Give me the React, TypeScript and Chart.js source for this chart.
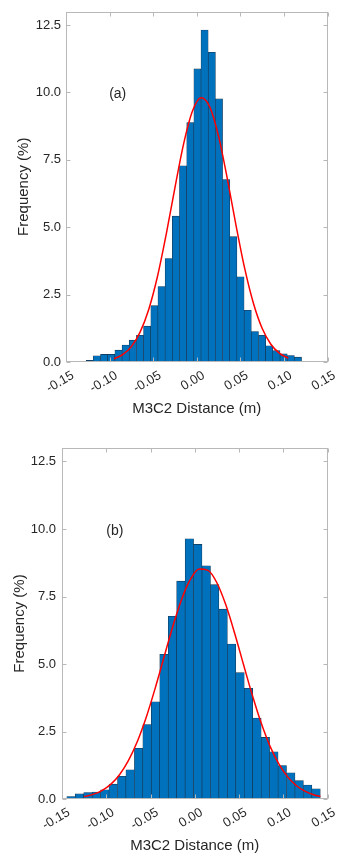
import React, { useEffect, useRef } from 'react';
import { Chart, registerables } from 'chart.js';
Chart.register(...registerables);

// ---- tick values ----
const xTickValues = [-0.15, -0.1, -0.05, 0, 0.05, 0.1, 0.15];
const yTickValues = [0, 2.5, 5, 7.5, 10, 12.5];

// ---- panel (a) ----
const binCentersA = [
  -0.1228, -0.1145, -0.1063, -0.0981, -0.0898, -0.0816, -0.0734, -0.0651, -0.0569, -0.0486,
  -0.0404, -0.0322, -0.0239, -0.0157, -0.0074, 0.0008, 0.0090, 0.0173, 0.0255, 0.0338,
  0.0420, 0.0502, 0.0585, 0.0667, 0.0750, 0.0832, 0.0914, 0.0997, 0.1079, 0.1161,
];
const freqA = [
  0.06, 0.23, 0.28, 0.28, 0.44, 0.63, 0.81, 0.99, 1.33, 2.09,
  2.80, 3.84, 5.41, 7.28, 8.88, 10.87, 12.31, 11.49, 9.76, 6.77,
  4.65, 3.16, 1.92, 1.13, 0.99, 0.60, 0.42, 0.30, 0.24, 0.18,
];
const curveXA = [
  -0.095, -0.085, -0.075, -0.065, -0.055, -0.045, -0.035, -0.025, -0.015, -0.005,
  0.005, 0.015, 0.025, 0.035, 0.045, 0.055, 0.065, 0.075, 0.085, 0.095, 0.105,
];
const curveYA = [
  0.12, 0.27, 0.57, 1.11, 1.96, 3.18, 4.74, 6.47, 8.10, 9.30,
  9.80, 9.46, 8.38, 6.81, 5.08, 3.47, 2.18, 1.25, 0.66, 0.32, 0.14,
];

// ---- panel (b) ----
const binCentersB = [
  -0.1398, -0.1303, -0.1207, -0.1112, -0.1016, -0.0921, -0.0825, -0.0730, -0.0634, -0.0539,
  -0.0443, -0.0348, -0.0252, -0.0157, -0.0061, 0.0034, 0.0130, 0.0225, 0.0321, 0.0416,
  0.0512, 0.0607, 0.0703, 0.0798, 0.0894, 0.0989, 0.1085, 0.1180, 0.1276, 0.1371,
];
const freqB = [
  0.09, 0.19, 0.24, 0.26, 0.34, 0.55, 0.84, 1.08, 1.88, 2.76,
  3.60, 5.36, 6.77, 8.07, 9.64, 9.43, 8.64, 7.94, 7.03, 5.74,
  4.68, 4.10, 3.00, 2.28, 1.75, 1.24, 0.97, 0.68, 0.52, 0.38,
];
const curveXB = [
  -0.125, -0.115, -0.105, -0.095, -0.085, -0.075, -0.065, -0.055, -0.045, -0.035,
  -0.025, -0.015, -0.005, 0.005, 0.015, 0.025, 0.035, 0.045, 0.055, 0.065,
  0.075, 0.085, 0.095, 0.105, 0.115, 0.125, 0.135, 0.142,
];
const curveYB = [
  0.09, 0.17, 0.31, 0.54, 0.90, 1.42, 2.12, 3.01, 4.07, 5.22,
  6.37, 7.38, 8.13, 8.52, 8.47, 8.01, 7.20, 6.15, 4.99, 3.85,
  2.82, 1.96, 1.30, 0.82, 0.49, 0.28, 0.15, 0.09,
];

const FONT = "'Liberation Sans', Arial, Helvetica, sans-serif";
const TEXT = '#262626';
const AXIS = '#b8b8b8';

type Geom = { left: number; right: number; top: number; bottom: number; width: number; height: number; yTitlePad: number; xTitlePad: number; yTickPad: number };

const framePlugin = {
  id: 'frame',
  afterDatasetsDraw(chart: any, _args: any, opts: any) {
    const { ctx, chartArea: a, scales } = chart;
    const x = scales.x;
    const y = scales.y;
    ctx.save();
    ctx.strokeStyle = AXIS;
    ctx.lineWidth = 1;
    const L = Math.round(a.left) + 0.5;
    const R = Math.round(a.right) - 0.5;
    const T = Math.round(a.top) + 0.5;
    const B = Math.round(a.bottom) - 0.5;
    ctx.strokeRect(L, T, R - L, B - T);
    const tl = 4;
    ctx.beginPath();
    xTickValues.forEach((v) => {
      const px = Math.round(x.getPixelForValue(v)) + 0.5;
      ctx.moveTo(px, T);
      ctx.lineTo(px, T + tl);
      ctx.moveTo(px, B);
      ctx.lineTo(px, B - tl);
    });
    yTickValues.forEach((v) => {
      const py = Math.round(y.getPixelForValue(v)) + 0.5;
      ctx.moveTo(L, py);
      ctx.lineTo(L + tl, py);
      ctx.moveTo(R, py);
      ctx.lineTo(R - tl, py);
    });
    ctx.stroke();
    // panel label
    ctx.fillStyle = TEXT;
    ctx.font = `14px ${FONT}`;
    ctx.textAlign = 'center';
    ctx.textBaseline = 'middle';
    ctx.fillText(opts.text, x.getPixelForValue(opts.x), y.getPixelForValue(opts.y));
    ctx.restore();
  },
};

function Hist(props: {
  centers: number[];
  freq: number[];
  cx: number[];
  cy: number[];
  label: string;
  labelX: number;
  labelY: number;
  g: Geom;
}) {
  const ref = useRef<HTMLCanvasElement>(null);
  const { centers, freq, cx, cy, label, labelX, labelY, g } = props;
  useEffect(() => {
    if (!ref.current) return;
    const chart = new Chart(ref.current, {
      type: 'bar',
      data: {
        datasets: [
          {
            type: 'line',
            data: cx.map((v, i) => ({ x: v, y: cy[i] })),
            borderColor: '#ff0000',
            borderWidth: 1.5,
            pointRadius: 0,
            fill: false,
            cubicInterpolationMode: 'monotone',
            order: 0,
          } as any,
          {
            type: 'bar',
            data: centers.map((v, i) => ({ x: v, y: freq[i] })),
            backgroundColor: '#0072BD',
            borderColor: '#15334f',
            borderWidth: 0.6,
            barPercentage: 1,
            categoryPercentage: 1,
            order: 1,
          } as any,
        ],
      },
      options: {
        responsive: false,
        animation: false,
        events: [],
        layout: { padding: { left: 0, top: g.top, right: g.width - g.right, bottom: 0 } },
        plugins: {
          legend: { display: false },
          tooltip: { enabled: false },
          frame: { text: label, x: labelX, y: labelY },
        } as any,
        scales: {
          x: {
            type: 'linear',
            min: -0.15,
            max: 0.15,
            offset: false,
            grid: { display: false, drawTicks: false },
            border: { display: false },
            afterBuildTicks: (s: any) => {
              s.ticks = xTickValues.map((v) => ({ value: v }));
            },
            afterFit: (s: any) => {
              s.height = g.height - g.bottom;
            },
            ticks: {
              autoSkip: false,
              minRotation: 30,
              maxRotation: 30,
              padding: 7,
              labelOffset: 7,
              color: TEXT,
              font: { family: FONT, size: 13, lineHeight: 1 },
              callback: (v: any) => Number(v).toFixed(2),
            },
            title: {
              display: true,
              text: 'M3C2 Distance (m)',
              color: TEXT,
              font: { family: FONT, size: 15, lineHeight: 1 },
              padding: { top: 0, bottom: g.xTitlePad },
            },
          },
          y: {
            type: 'linear',
            min: 0,
            max: 13,
            grid: { display: false, drawTicks: false },
            border: { display: false },
            afterBuildTicks: (s: any) => {
              s.ticks = yTickValues.map((v) => ({ value: v }));
            },
            afterFit: (s: any) => {
              s.width = g.left;
            },
            ticks: {
              padding: g.yTickPad,
              color: TEXT,
              font: { family: FONT, size: 13, lineHeight: 1 },
              callback: (v: any) => Number(v).toFixed(1),
            },
            title: {
              display: true,
              text: 'Frequency (%)',
              color: TEXT,
              font: { family: FONT, size: 15, lineHeight: 1 },
              padding: { top: g.yTitlePad, bottom: 0 },
            },
          },
        },
      },
      plugins: [framePlugin],
    });
    return () => chart.destroy();
  }, []);
  return <canvas ref={ref} width={g.width} height={g.height} style={{ display: 'block' }} />;
}

const geomA: Geom = { left: 66, right: 334, top: 8, bottom: 362, width: 341, height: 426, yTitlePad: 16.5, xTitlePad: 9.5, yTickPad: 5 };
const geomB: Geom = { left: 62, right: 331, top: 22, bottom: 373, width: 341, height: 427, yTitlePad: 12.5, xTitlePad: 0, yTickPad: 6 };

export default function App() {
  return (
    <div style={{ position: 'absolute', left: 0, top: 0, width: 341, height: 853, background: '#fff' }}>
      <Hist centers={binCentersA} freq={freqA} cx={curveXA} cy={curveYA} label="(a)" labelX={-0.0907} labelY={9.95} g={geomA} />
      <Hist centers={binCentersB} freq={freqB} cx={curveXB} cy={curveYB} label="(b)" labelX={-0.0903} labelY={9.93} g={geomB} />
    </div>
  );
}
